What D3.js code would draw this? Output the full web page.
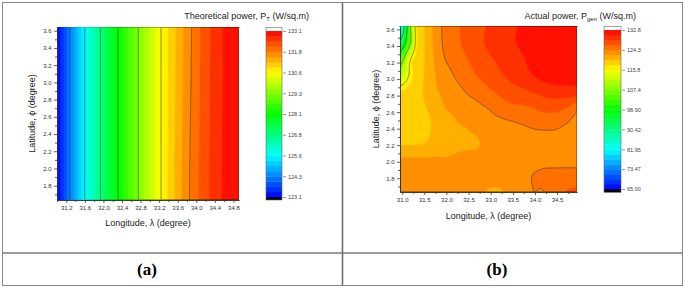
<!DOCTYPE html>
<html>
<head>
<meta charset="utf-8">
<script src="https://cdn.jsdelivr.net/npm/d3@7"></script>
<style>
    body { margin: 0; background: #fff; }
    svg text { font-family: "Liberation Sans", Arial, sans-serif; fill: #222; }
    .axis path, .axis line { stroke: #333; stroke-width: 0.8; }
    .axis text { font-size: 6px; fill: #333; }
    .bar-axis text { font-size: 5.5px; fill: #444; }
    .bar-axis line { stroke: #555; stroke-width: 0.6; }
</style>
</head>
<body>
<div id="figure"></div>
<script>
// (a) theoretical power P_T, read along longitude at the bottom and top latitude
const ptLon = [31.0, 31.28, 31.56, 31.84, 32.12, 32.40, 32.68, 32.96, 33.24, 33.52, 33.80, 34.08, 34.36, 34.64, 34.92];
const ptLat = [1.634, 3.643];
const ptBottom = [123.2, 124.35, 125.45, 126.5, 127.5, 128.35, 129.15, 129.9, 130.6, 131.2, 131.76, 132.2, 132.58, 132.87, 133.05];
const ptTop = [123.2, 124.35, 125.45, 126.5, 127.5, 128.35, 129.15, 129.9, 130.6, 131.15, 131.68, 132.15, 132.55, 132.85, 133.05];
const ptLevels = [123.1, 124.35, 125.6, 126.85, 128.1, 129.35, 130.6, 131.85, 133.1];
const ptLevelLabels = ["123.1", "124.3", "125.6", "126.8", "128.1", "129.3", "130.6", "131.8", "133.1"];
const ptXTicks = [31.2, 31.6, 32.0, 32.4, 32.8, 33.2, 33.6, 34.0, 34.4, 34.8];
const ptYTicks = [1.8, 2.0, 2.2, 2.4, 2.6, 2.8, 3.0, 3.2, 3.4, 3.6];

// (b) actual power P_gen, rows go from the lowest latitude to the highest
const pgLon = [30.95, 31.2, 31.325, 31.45, 31.7, 31.95, 32.2, 32.45, 32.7, 32.95, 33.2, 33.45, 33.7, 33.95, 34.2, 34.45, 34.7, 34.95];
const pgLat = [1.64, 1.84, 2.04, 2.24, 2.44, 2.64, 2.84, 3.04, 3.24, 3.44, 3.64];
const pgValues = [
    [123.2, 123.0, 122.95, 122.9, 122.8, 122.9, 123.0, 123.1, 123.0, 122.1, 122.1, 122.5, 123.3, 124.3, 124.35, 125.8, 126.5, 126.8],
    [123.0, 122.8, 122.75, 122.7, 122.6, 122.8, 122.9, 123.0, 123.0, 122.9, 122.8, 123.0, 123.4, 124.35, 124.7, 124.9, 125.0, 125.0],
    [122.3, 122.3, 122.3, 122.3, 122.3, 122.3, 122.4, 122.5, 122.6, 122.8, 122.9, 123.0, 123.2, 123.3, 123.6, 123.6, 123.6, 123.6],
    [119.6, 119.7, 119.8, 119.9, 120.6, 121.0, 121.8, 122.0, 122.1, 122.8, 123.0, 123.2, 123.4, 123.5, 123.5, 123.4, 123.2, 123.0],
    [119.3, 119.5, 119.6, 119.7, 120.2, 121.0, 122.0, 122.3, 122.8, 123.3, 123.6, 123.9, 124.25, 124.6, 124.8, 124.8, 124.2, 123.4],
    [119.0, 119.4, 119.6, 119.8, 120.6, 122.1, 122.6, 123.3, 123.8, 124.35, 125.2, 125.8, 126.0, 126.3, 126.9, 127.0, 126.4, 124.9],
    [118.3, 119.3, 119.7, 120.0, 121.7, 122.6, 123.4, 124.4, 125.0, 126.0, 126.8, 127.7, 128.0, 128.6, 129.2, 129.5, 129.6, 129.6],
    [111.0, 117.0, 119.0, 119.8, 121.9, 123.2, 124.5, 125.5, 126.5, 127.4, 128.2, 129.0, 129.8, 130.6, 131.4, 131.9, 131.9, 131.6],
    [104.0, 116.2, 118.5, 119.6, 122.1, 124.2, 125.3, 126.3, 127.3, 128.2, 129.0, 129.8, 130.4, 131.4, 132.2, 132.6, 132.5, 132.1],
    [92.0, 108.0, 117.5, 119.5, 122.3, 124.7, 125.9, 127.0, 128.0, 128.9, 129.7, 130.4, 131.0, 131.7, 132.2, 132.5, 132.5, 132.3],
    [82.0, 108.0, 117.5, 119.5, 122.4, 124.8, 126.0, 127.0, 127.9, 128.8, 129.6, 130.3, 130.9, 131.4, 131.8, 132.0, 132.0, 131.8]
];
const pgLevels = [65.0, 73.475, 81.95, 90.425, 98.9, 107.375, 115.85, 124.325, 132.8];
const pgLevelLabels = ["65.00", "73.47", "81.95", "90.42", "98.90", "107.4", "115.8", "124.3", "132.8"];
const pgXTicks = [31.0, 31.5, 32.0, 32.5, 33.0, 33.5, 34.0, 34.5];
const pgYTicks = [1.8, 2.0, 2.2, 2.4, 2.6, 2.8, 3.0, 3.2, 3.4, 3.6];

// rainbow palette used by both maps
const rainbow = d3.scaleLinear()
    .domain([0, 0.25, 0.5, 0.75, 1])
    .range(["#0000ff", "#00ffff", "#00ff00", "#ffff00", "#ff0000"])
    .clamp(true);

// catmull-rom step between p1 and p2
function cubic(p0, p1, p2, p3, t) {
    return p1 + 0.5 * t * (p2 - p0 + t * (2 * p0 - 5 * p1 + 4 * p2 - p3 + t * (3 * (p1 - p2) + p3 - p0)));
}

// smooth value of the grid at fractional row / column index
function sampleGrid(grid, r, c) {
    const nr = grid.length, nc = grid[0].length;
    const r1 = Math.min(Math.floor(r), nr - 2), c1 = Math.min(Math.floor(c), nc - 2);
    const tr = r - r1, tc = c - c1;
    const rowAt = k => grid[Math.max(0, Math.min(nr - 1, k))];
    const colAt = k => Math.max(0, Math.min(nc - 1, k));
    const along = row => cubic(row[colAt(c1 - 1)], row[c1], row[c1 + 1], row[colAt(c1 + 2)], tc);
    return cubic(along(rowAt(r1 - 1)), along(rowAt(r1)), along(rowAt(r1 + 1)), along(rowAt(r1 + 2)), tr);
}

class ContourVis {
    constructor(_svg, _config) {
        this.svg = _svg;
        this.config = _config;
        this.initVis();
    }

    initVis() {
        const vis = this;
        const c = vis.config;

        // plot box
        vis.width = c.right - c.left;
        vis.height = c.bottom - c.top;
        vis.g = vis.svg.append("g").attr("transform", `translate(${c.left},${c.top})`);

        // scales
        vis.xScale = d3.scaleLinear().domain(c.xDomain).range([0, vis.width]);
        vis.yScale = d3.scaleLinear().domain(c.yDomain).range([vis.height, 0]);

        // 4 colour bands between every labelled level
        const lo = c.levels[0], hi = c.levels[c.levels.length - 1];
        vis.step = (c.levels[1] - lo) / 4;
        vis.bands = d3.range((c.levels.length - 1) * 4).map(i => lo + i * vis.step);
        vis.color = v => rainbow((v - lo) / (hi - lo));

        vis.wrangleData();
    }

    wrangleData() {
        const vis = this;
        const c = vis.config;

        // grid index along each axis through piecewise scales
        const colIndex = d3.scaleLinear().domain(c.lon).range(d3.range(c.lon.length)).clamp(true);
        const rowIndex = d3.scaleLinear().domain(c.lat).range(d3.range(c.lat.length)).clamp(true);

        vis.values = new Float64Array(vis.width * vis.height);
        for (let j = 0; j < vis.height; j++) {
            const ri = rowIndex(vis.yScale.invert(j + 0.5));
            for (let i = 0; i < vis.width; i++) {
                const ci = colIndex(vis.xScale.invert(i + 0.5));
                vis.values[j * vis.width + i] = sampleGrid(c.grid, ri, ci);
            }
        }

        vis.updateVis();
    }

    updateVis() {
        const vis = this;
        const c = vis.config;
        const path = d3.geoPath();

        // filled bands
        const filled = d3.contours().size([vis.width, vis.height]).thresholds(vis.bands)(vis.values);
        vis.g.append("g")
            .selectAll("path")
            .data(filled)
            .join("path")
            .attr("d", path)
            .attr("fill", (d, i) => vis.color(vis.bands[i] + vis.step / 2));

        // contour lines on the labelled levels, edges clipped away
        const clipId = `clip-${c.id}`;
        vis.g.append("clipPath").attr("id", clipId)
            .append("rect")
            .attr("x", 0.7).attr("y", 0.7)
            .attr("width", vis.width - 1.4).attr("height", vis.height - 1.4);

        const lines = d3.contours().size([vis.width, vis.height])
            .thresholds(c.levels.slice(1, -1))(vis.values);
        vis.g.append("g")
            .attr("clip-path", `url(#${clipId})`)
            .selectAll("path")
            .data(lines)
            .join("path")
            .attr("d", path)
            .attr("fill", "none")
            .attr("stroke", "#333")
            .attr("stroke-opacity", 0.85)
            .attr("stroke-width", 0.65);

        // axes with minor ticks
        const fmt = d3.format(".1f");
        vis.g.append("g").attr("class", "axis")
            .attr("transform", `translate(0,${vis.height})`)
            .call(d3.axisBottom(vis.xScale).tickValues(c.xMinor).tickFormat("").tickSize(2).tickSizeOuter(0));
        vis.g.append("g").attr("class", "axis")
            .attr("transform", `translate(0,${vis.height})`)
            .call(d3.axisBottom(vis.xScale).tickValues(c.xTicks).tickFormat(fmt).tickSize(3).tickPadding(3).tickSizeOuter(0));
        vis.g.append("g").attr("class", "axis")
            .call(d3.axisLeft(vis.yScale).tickValues(c.yMinor).tickFormat("").tickSize(2).tickSizeOuter(0));
        vis.g.append("g").attr("class", "axis")
            .call(d3.axisLeft(vis.yScale).tickValues(c.yTicks).tickFormat(fmt).tickSize(3).tickPadding(2.5).tickSizeOuter(0));

        // axis labels
        vis.g.append("text")
            .attr("text-anchor", "middle")
            .attr("x", vis.width / 2)
            .attr("y", vis.height + c.xLabelOffset)
            .attr("font-size", "9px")
            .text("Longitude, λ (degree)");

        vis.g.append("text")
            .attr("text-anchor", "middle")
            .attr("transform", "rotate(-90)")
            .attr("x", -vis.height / 2)
            .attr("y", -c.yLabelOffset)
            .attr("font-size", "9px")
            .text("Latitude, ϕ (degree)");

        // title with subscript
        const title = vis.svg.append("text")
            .attr("text-anchor", "end")
            .attr("x", c.titleX)
            .attr("y", c.titleY)
            .attr("font-size", "9px");
        title.append("tspan").text(c.title);
        title.append("tspan").attr("font-size", "6px").attr("dy", 2).text(c.subscript);
        title.append("tspan").attr("dy", -2).text(" (W/sq.m)");

        vis.drawColorBar();
    }

    drawColorBar() {
        const vis = this;
        const c = vis.config;
        const b = c.bar;
        const lo = c.levels[0], hi = c.levels[c.levels.length - 1];

        const barScale = d3.scaleLinear().domain([lo, hi]).range([b.low, b.high]);
        const bar = vis.svg.append("g").attr("transform", `translate(${b.x},0)`);

        // above-max and below-min caps
        bar.append("rect")
            .attr("x", 0).attr("width", b.width)
            .attr("y", b.top).attr("height", barScale(hi) - b.top)
            .attr("fill", "#ffffff");
        bar.append("rect")
            .attr("x", 0).attr("width", b.width)
            .attr("y", barScale(lo)).attr("height", b.bottom - barScale(lo))
            .attr("fill", "#000000");

        bar.selectAll(".band")
            .data(vis.bands)
            .join("rect")
            .attr("class", "band")
            .attr("x", 0).attr("width", b.width)
            .attr("y", d => barScale(d + vis.step))
            .attr("height", d => barScale(d) - barScale(d + vis.step) + 0.3)
            .attr("fill", d => vis.color(d + vis.step / 2));

        bar.append("rect")
            .attr("x", 0).attr("width", b.width)
            .attr("y", b.top).attr("height", b.bottom - b.top)
            .attr("fill", "none")
            .attr("stroke", "#666")
            .attr("stroke-width", 0.6);

        bar.append("g")
            .attr("class", "bar-axis")
            .attr("transform", `translate(${b.width + 1},0)`)
            .call(d3.axisRight(barScale).tickValues(c.levels)
                .tickFormat((d, i) => c.levelLabels[i]).tickSize(3).tickPadding(2).tickSizeOuter(0))
            .call(g => g.select(".domain").remove());
    }
}

const svg = d3.select("#figure").append("svg")
    .attr("width", 685)
    .attr("height", 288);

// table frame around the two panels
const frame = svg.append("g").attr("fill", "none");
frame.append("rect").attr("x", 2.5).attr("y", 2.5).attr("width", 680).attr("height", 283)
    .attr("stroke", "#8a8a8a").attr("stroke-width", 1);
frame.append("line").attr("x1", 342.5).attr("x2", 342.5).attr("y1", 2.5).attr("y2", 285.5)
    .attr("stroke", "#6e6e6e").attr("stroke-width", 1.6);
frame.append("line").attr("x1", 2.5).attr("x2", 682.5).attr("y1", 253).attr("y2", 253)
    .attr("stroke", "#7a7a7a").attr("stroke-width", 1.6);

svg.selectAll(".panel-label")
    .data(["(a)", "(b)"])
    .join("text")
    .attr("class", "panel-label")
    .attr("x", (d, i) => [147, 497][i])
    .attr("y", 275)
    .attr("text-anchor", "middle")
    .style("font-family", "'Liberation Serif', 'Times New Roman', serif")
    .style("font-weight", "bold")
    .style("font-size", "17px")
    .style("fill", "#000")
    .text(d => d);

new ContourVis(svg, {
    id: "pt",
    left: 57, right: 239, top: 27, bottom: 200,
    xDomain: [31.0, 34.92], yDomain: [1.634, 3.643],
    lon: ptLon, lat: ptLat, grid: [ptBottom, ptTop],
    levels: ptLevels, levelLabels: ptLevelLabels,
    xTicks: ptXTicks, xMinor: d3.range(31.0, 34.9, 0.4),
    yTicks: ptYTicks, yMinor: d3.range(1.7, 3.65, 0.2),
    xLabelOffset: 25.5, yLabelOffset: 22,
    title: "Theoretical power, P", subscript: "T", titleX: 309, titleY: 19,
    bar: { x: 266, width: 16, top: 27.3, bottom: 200, high: 31, low: 197 }
});

new ContourVis(svg, {
    id: "pg",
    left: 400, right: 577, top: 26, bottom: 192,
    xDomain: [30.95, 34.95], yDomain: [1.634, 3.642],
    lon: pgLon, lat: pgLat, grid: pgValues,
    levels: pgLevels, levelLabels: pgLevelLabels,
    xTicks: pgXTicks, xMinor: d3.range(31.25, 34.9, 0.5),
    yTicks: pgYTicks, yMinor: d3.range(1.7, 3.65, 0.2),
    xLabelOffset: 26.5, yLabelOffset: 21.5,
    title: "Actual power, P", subscript: "gen", titleX: 636, titleY: 19,
    bar: { x: 604, width: 17, top: 26.7, bottom: 192.3, high: 30, low: 189 }
});
</script>
</body>
</html>
